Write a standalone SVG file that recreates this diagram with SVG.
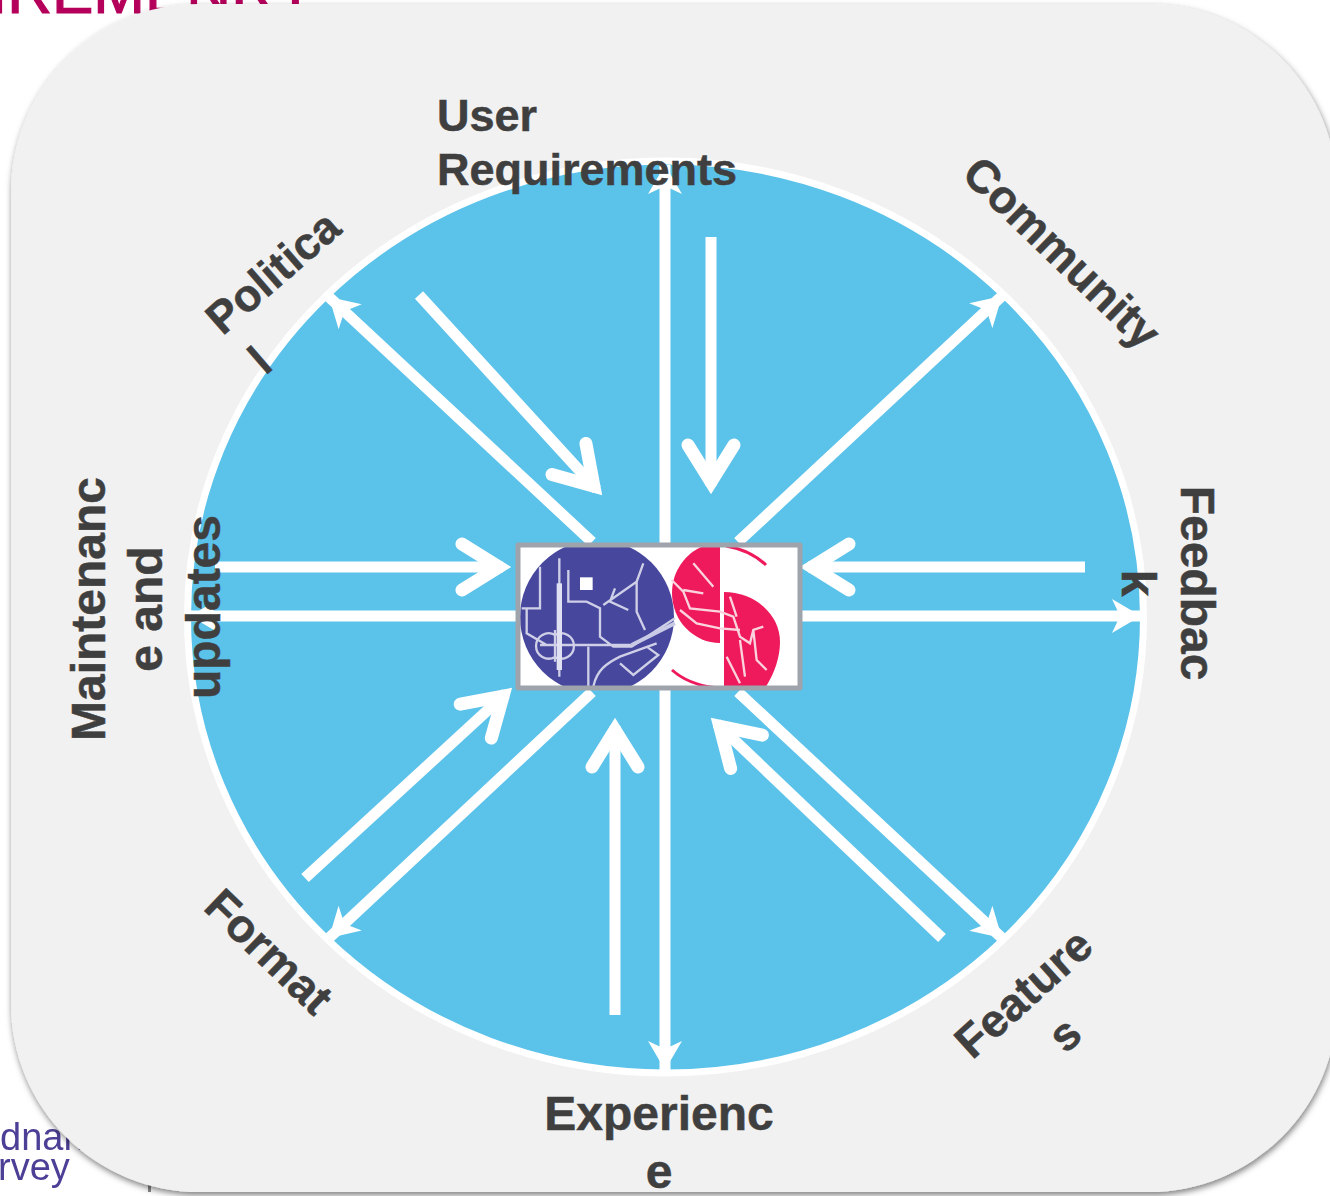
<svg xmlns="http://www.w3.org/2000/svg" width="1330" height="1196" viewBox="0 0 1330 1196">
<style>
.lbl{font-family:"Liberation Sans",Arial,sans-serif;font-weight:700;font-size:46px;fill:#3f3f3f;stroke:#3f3f3f;stroke-width:.5;text-anchor:middle}
.c{fill:none;stroke:#fff;stroke-width:11}
.o{marker-end:url(#small)}
.i{marker-end:url(#big)}
.bw{fill:none;stroke:#cfd0e8;stroke-width:7}
.pw{fill:none;stroke:#fbd3df;stroke-width:7}
.logo2{font-family:"Liberation Sans",Arial,sans-serif;font-size:38px;fill:#4c3f96;filter:url(#soft)}
</style>
<defs>
<filter id="sh" x="-5%" y="-5%" width="110%" height="110%"><feDropShadow dx="1" dy="3" stdDeviation="3" flood-color="#000" flood-opacity=".5"/></filter>
<filter id="soft"><feGaussianBlur stdDeviation=".7"/></filter>
<marker id="small" markerUnits="userSpaceOnUse" markerWidth="34" markerHeight="36" refX="29" refY="18" orient="auto" overflow="visible"><path d="M0 1 L29 18 L0 35 L8 18Z" fill="#fff"/></marker>
<marker id="big" markerUnits="userSpaceOnUse" markerWidth="70" markerHeight="70" refX="52" refY="35" orient="auto" overflow="visible"><path d="M11 12 L48 35 L11 58" fill="none" stroke="#fff" stroke-width="13" stroke-linecap="round" stroke-miterlimit="10"/></marker>
<clipPath id="bc"><rect x="520" y="547" width="278" height="139"/></clipPath>
</defs>
<text x="-10" y="13" font-family="Liberation Sans,Arial,sans-serif" font-size="62" fill="#b5005b" stroke="#b5005b" stroke-width="1.2">IREMENRY</text>
<text class="logo2" x="0" y="1150">dnan</text>
<text class="logo2" x="-2" y="1180">rvey</text>
<rect x="148" y="1182" width="3" height="10" fill="#888"/>
<rect id="panel" x="11" y="4" width="1326" height="1188" rx="188" ry="188" fill="#f1f1f1" filter="url(#sh)"/>
<ellipse id="disc" cx="665.5" cy="617" rx="478" ry="456" fill="#5bc2ea" stroke="#fff" stroke-width="7"/>
<g id="connectors">
<path class="c o" d="M665 545V165"/>
<path class="c o" d="M665 690V1070"/>
<path class="c o" d="M520 616H190"/>
<path class="c o" d="M800 616H1141"/>
<path class="c o" d="M592 542L329 297"/>
<path class="c o" d="M738 542L1002 296"/>
<path class="c o" d="M592 692L329 938"/>
<path class="c o" d="M738 692L1002 938"/>
<path class="c i" d="M711 237V486"/>
<path class="c i" d="M419 295L596.6 489.2"/>
<path class="c i" d="M215 567H503"/>
<path class="c i" d="M1085 567H808"/>
<path class="c i" d="M615 1015V726"/>
<path class="c i" d="M305 878L506 693.4"/>
<path class="c i" d="M942 938L716.8 723.5"/>
</g>
<g id="logo">
<rect x="518" y="545" width="282" height="143" fill="#fff"/>
<g clip-path="url(#bc)">
<circle cx="597" cy="617" r="77" fill="#46479d"/>
<g transform="translate(500 530) scale(.3333)">
<path d="M178 85V440M120 110V235H65M80 235V310L140 345M205 120V215H260L300 235V320L340 350H395L525 265M430 100L410 155 310 225M410 155V245L435 300M205 345H395M265 350V470M165 315A38 38 0 1 0 165 381A38 38 0 1 0 165 315M165 300V395M120 345H215M280 470C290 420 320 400 360 380L470 340M360 400L400 435 475 375 440 350M345 175L330 215 385 240" class="bw"/>
<path d="M178 160V420" stroke="#dfe0f1" stroke-width="16" fill="none"/>
<path d="M395 345L525 280" stroke="#c9cbe6" stroke-width="12" fill="none"/>
<rect x="240" y="142" width="38" height="38" fill="#fff"/>
</g>
<path d="M720 543A48 50 0 0 0 720 643Z" fill="#ef1a5c"/>
<path d="M724 592A56 50 0 0 1 780 642C780 660 772 680 760 695H724Z" fill="#ef1a5c"/>
<path d="M726 546Q750 550 766 565M672 670Q690 686 720 688" fill="none" stroke="#ef1a5c" stroke-width="3"/>
<g transform="translate(500 530) scale(.3333)">
<path d="M515 150L550 185 570 235 660 245 700 260 720 320 750 340 760 300 790 290M540 240L590 280 660 295 720 300M550 180L610 190M720 330L735 440M760 300L770 390 800 420M680 380L720 460M690 200L710 260M580 100L640 170" class="pw"/>
</g>
</g>
<rect x="518" y="545" width="282" height="143" fill="none" stroke="#9ea3ac" stroke-width="5" stroke-linejoin="round"/>
</g>
<g id="user"><text class="lbl" style="text-anchor:start;font-size:45px" x="437" y="131">User</text><text class="lbl" style="text-anchor:start;font-size:45px" x="437" y="185">Requirements</text></g>
<g id="community"><text class="lbl" transform="translate(1051 264) rotate(44)">Community</text></g>
<g id="feedback" transform="rotate(90)"><text class="lbl" style="font-size:48px" x="583" y="-1181">Feedbac</text><text class="lbl" style="font-size:48px" x="583" y="-1122">k</text></g>
<g id="features"><text class="lbl" transform="translate(1034 1005) rotate(-42)">Feature</text><text class="lbl" transform="translate(1075 1046) rotate(-42)">s</text></g>
<g id="experience"><text class="lbl" style="font-size:48px" x="659" y="1130">Experienc</text><text class="lbl" style="font-size:48px" x="659" y="1188">e</text></g>
<g id="format"><text class="lbl" transform="translate(258 963) rotate(44)">Format</text></g>
<g id="maintenance" transform="rotate(-90)"><text class="lbl" style="font-size:48px" x="-609" y="105">Maintenanc</text><text class="lbl" style="font-size:48px" x="-609" y="162">e and</text><text class="lbl" style="font-size:48px" x="-607" y="220">updates</text></g>
<g id="political"><text class="lbl" style="font-size:45px" transform="translate(283 284) rotate(-41)">Politica</text><text class="lbl" style="font-size:45px" transform="translate(270 372) rotate(-41)">l</text></g>
</svg>
